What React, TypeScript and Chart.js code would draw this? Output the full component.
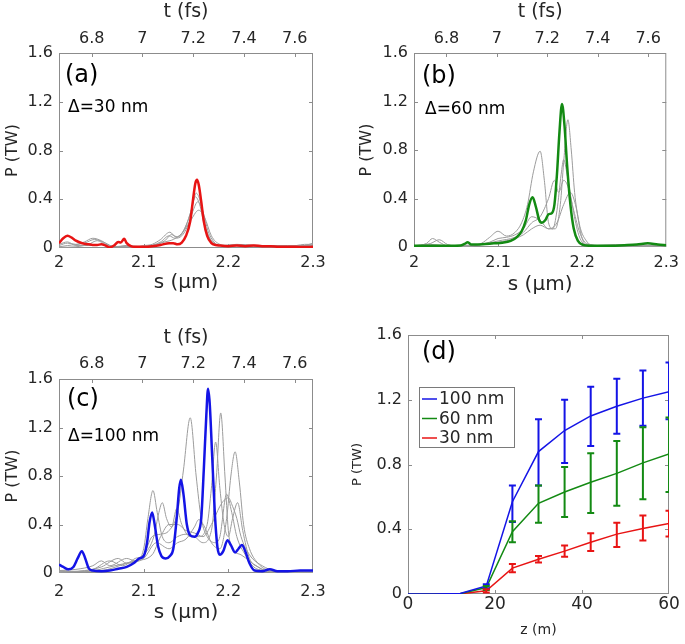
import React, { useEffect, useRef } from "react";
import { Chart, registerables } from "chart.js";

Chart.register(...registerables);

type Pair = [number, number];

const FONT = "'DejaVu Sans', sans-serif";
const TEXT = "#262626";
const AXIS = "#8c8c8c";
const GRAY = "#9c9c9c";
const RED = "#e81414";
const GREEN = "#138a13";
const BLUE = "#1414e6";

const C_LIGHT = 0.299792458; // µm per fs
const S_MIN = 2;
const S_MAX = 2.3;
const sTicks = [2, 2.1, 2.2, 2.3];
const tTicks = [6.8, 7, 7.2, 7.4, 7.6];
const pTicks = [0, 0.4, 0.8, 1.2, 1.6];
const zTicks = [0, 20, 40, 60];

// ---------- Panel (a) : Δ = 30 nm ----------
const aRed: Pair[] = [
  [2.0, 0.04], [2.005, 0.08], [2.01, 0.1], [2.015, 0.085], [2.02, 0.06], [2.025, 0.045],
  [2.03, 0.035], [2.035, 0.03], [2.04, 0.025], [2.045, 0.025], [2.05, 0.03], [2.055, 0.02],
  [2.06, 0.005], [2.065, 0.02], [2.07, 0.05], [2.073, 0.045], [2.077, 0.075], [2.08, 0.04],
  [2.085, 0.015], [2.09, 0.01], [2.1, 0.01], [2.11, 0.015], [2.12, 0.025], [2.13, 0.04],
  [2.135, 0.04], [2.14, 0.03], [2.145, 0.045], [2.15, 0.1], [2.155, 0.22], [2.158, 0.38],
  [2.161, 0.53], [2.163, 0.56], [2.165, 0.52], [2.168, 0.38], [2.171, 0.22], [2.175, 0.1],
  [2.18, 0.04], [2.185, 0.025], [2.19, 0.02], [2.2, 0.015], [2.21, 0.02], [2.22, 0.015],
  [2.23, 0.02], [2.24, 0.015], [2.25, 0.015], [2.26, 0.01], [2.27, 0.01], [2.28, 0.01],
  [2.29, 0.008], [2.3, 0.01],
];
const aGray1: Pair[] = [
  [2.0, 0.02], [2.01, 0.04], [2.02, 0.03], [2.03, 0.05], [2.04, 0.08], [2.05, 0.06],
  [2.06, 0.02], [2.07, 0.01], [2.08, 0.02], [2.09, 0.01], [2.1, 0.02], [2.11, 0.03],
  [2.12, 0.07], [2.131, 0.13], [2.138, 0.09], [2.145, 0.12], [2.152, 0.22], [2.157, 0.33],
  [2.162, 0.45], [2.167, 0.38], [2.172, 0.2], [2.178, 0.08], [2.185, 0.03], [2.2, 0.02],
  [2.22, 0.025], [2.25, 0.015], [2.28, 0.02], [2.29, 0.03], [2.3, 0.03],
];
const aGray2: Pair[] = [
  [2.0, 0.01], [2.01, 0.02], [2.03, 0.04], [2.042, 0.07], [2.055, 0.04], [2.065, 0.01],
  [2.08, 0.02], [2.1, 0.01], [2.12, 0.05], [2.13, 0.1], [2.137, 0.08], [2.145, 0.1],
  [2.152, 0.18], [2.158, 0.3], [2.164, 0.38], [2.17, 0.3], [2.176, 0.14], [2.183, 0.05],
  [2.19, 0.02], [2.21, 0.03], [2.24, 0.02], [2.27, 0.02], [2.3, 0.02],
];
const aGray3: Pair[] = [
  [2.0, 0.03], [2.01, 0.05], [2.02, 0.02], [2.04, 0.02], [2.05, 0.03], [2.06, 0.01],
  [2.08, 0.01], [2.11, 0.02], [2.125, 0.05], [2.135, 0.07], [2.145, 0.12], [2.155, 0.22],
  [2.165, 0.31], [2.172, 0.25], [2.18, 0.1], [2.19, 0.03], [2.2, 0.02], [2.23, 0.02],
  [2.26, 0.01], [2.29, 0.02], [2.3, 0.04],
];
const aGray4: Pair[] = [
  [2.0, 0.005], [2.02, 0.01], [2.035, 0.03], [2.045, 0.06], [2.055, 0.03], [2.07, 0.01],
  [2.09, 0.01], [2.11, 0.02], [2.125, 0.06], [2.133, 0.11], [2.14, 0.09], [2.148, 0.15],
  [2.155, 0.28], [2.161, 0.42], [2.166, 0.36], [2.172, 0.18], [2.18, 0.06], [2.19, 0.02],
  [2.21, 0.02], [2.25, 0.01], [2.3, 0.02],
];

// ---------- Panel (b) : Δ = 60 nm ----------
const bGreen: Pair[] = [
  [2.0, 0.01], [2.02, 0.01], [2.04, 0.01], [2.055, 0.012], [2.06, 0.025], [2.064, 0.04],
  [2.068, 0.02], [2.075, 0.02], [2.085, 0.025], [2.095, 0.03], [2.105, 0.035], [2.115, 0.05],
  [2.122, 0.08], [2.128, 0.13], [2.133, 0.22], [2.137, 0.35], [2.141, 0.41], [2.145, 0.33],
  [2.149, 0.22], [2.152, 0.2], [2.156, 0.22], [2.16, 0.27], [2.164, 0.28], [2.167, 0.35],
  [2.17, 0.6], [2.173, 0.95], [2.176, 1.18], [2.179, 1.0], [2.182, 0.68], [2.186, 0.35],
  [2.19, 0.15], [2.195, 0.05], [2.2, 0.02], [2.21, 0.01], [2.23, 0.01], [2.25, 0.015],
  [2.265, 0.02], [2.278, 0.03], [2.29, 0.02], [2.3, 0.015],
];
const bGray1: Pair[] = [
  [2.0, 0.01], [2.015, 0.03], [2.022, 0.07], [2.03, 0.04], [2.04, 0.01], [2.06, 0.01],
  [2.08, 0.03], [2.09, 0.08], [2.1, 0.13], [2.11, 0.09], [2.12, 0.12], [2.128, 0.2],
  [2.135, 0.35], [2.142, 0.62], [2.15, 0.79], [2.155, 0.55], [2.16, 0.2], [2.165, 0.15],
  [2.17, 0.3], [2.175, 0.6], [2.178, 0.72], [2.182, 0.6], [2.188, 0.35], [2.195, 0.12],
  [2.2, 0.04], [2.21, 0.01], [2.24, 0.02], [2.3, 0.01],
];
const bGray2: Pair[] = [
  [2.0, 0.005], [2.02, 0.03], [2.03, 0.06], [2.04, 0.02], [2.06, 0.005], [2.09, 0.04],
  [2.1, 0.07], [2.11, 0.08], [2.12, 0.1], [2.13, 0.15], [2.14, 0.25], [2.15, 0.22],
  [2.16, 0.15], [2.168, 0.15], [2.174, 0.35], [2.178, 0.7], [2.183, 1.05], [2.187, 0.8],
  [2.191, 0.45], [2.196, 0.2], [2.2, 0.07], [2.205, 0.02], [2.22, 0.01], [2.3, 0.01],
];
const bGray3: Pair[] = [
  [2.0, 0.01], [2.02, 0.02], [2.05, 0.005], [2.08, 0.02], [2.1, 0.05], [2.12, 0.08],
  [2.13, 0.12], [2.14, 0.2], [2.15, 0.25], [2.16, 0.4], [2.167, 0.55], [2.172, 0.45],
  [2.178, 0.55], [2.183, 0.5], [2.19, 0.3], [2.197, 0.12], [2.205, 0.03], [2.22, 0.01],
  [2.3, 0.005],
];
const bGray4: Pair[] = [
  [2.0, 0.005], [2.05, 0.01], [2.1, 0.04], [2.12, 0.07], [2.13, 0.1], [2.14, 0.15],
  [2.15, 0.18], [2.16, 0.15], [2.17, 0.2], [2.178, 0.35], [2.186, 0.45], [2.192, 0.35],
  [2.198, 0.15], [2.205, 0.05], [2.21, 0.02], [2.23, 0.01], [2.3, 0.01],
];

// ---------- Panel (c) : Δ = 100 nm ----------
const cBlue: Pair[] = [
  [2.0, 0.07], [2.005, 0.05], [2.011, 0.03], [2.017, 0.05], [2.022, 0.12], [2.027, 0.18],
  [2.031, 0.12], [2.035, 0.04], [2.04, 0.02], [2.05, 0.015], [2.06, 0.02], [2.07, 0.035],
  [2.08, 0.05], [2.088, 0.08], [2.095, 0.12], [2.1, 0.14], [2.104, 0.25], [2.107, 0.42],
  [2.11, 0.5], [2.113, 0.4], [2.117, 0.22], [2.121, 0.14], [2.126, 0.12], [2.131, 0.14],
  [2.135, 0.2], [2.139, 0.45], [2.142, 0.7], [2.144, 0.77], [2.147, 0.65], [2.151, 0.4],
  [2.155, 0.31], [2.16, 0.3], [2.164, 0.33], [2.168, 0.45], [2.171, 0.85], [2.174, 1.3],
  [2.176, 1.52], [2.178, 1.4], [2.181, 0.95], [2.184, 0.5], [2.187, 0.22], [2.19, 0.15],
  [2.194, 0.18], [2.199, 0.27], [2.203, 0.23], [2.208, 0.17], [2.212, 0.2], [2.216, 0.23],
  [2.22, 0.18], [2.225, 0.08], [2.231, 0.02], [2.24, 0.015], [2.249, 0.03], [2.258, 0.015],
  [2.27, 0.015], [2.285, 0.02], [2.3, 0.02],
];
const cGray1: Pair[] = [
  [2.0, 0.02], [2.02, 0.03], [2.04, 0.06], [2.05, 0.1], [2.06, 0.06], [2.08, 0.12],
  [2.09, 0.1], [2.1, 0.2], [2.105, 0.45], [2.111, 0.68], [2.116, 0.5], [2.122, 0.3],
  [2.13, 0.25], [2.14, 0.3], [2.15, 0.32], [2.16, 0.3], [2.17, 0.25], [2.18, 0.35],
  [2.186, 0.8], [2.191, 1.32], [2.196, 0.8], [2.2, 0.35], [2.205, 0.2], [2.215, 0.15],
  [2.225, 0.1], [2.235, 0.05], [2.25, 0.01], [2.3, 0.005],
];
const cGray2: Pair[] = [
  [2.0, 0.01], [2.03, 0.02], [2.05, 0.05], [2.07, 0.12], [2.08, 0.08], [2.1, 0.15],
  [2.112, 0.3], [2.118, 0.5], [2.122, 0.58], [2.127, 0.45], [2.133, 0.38], [2.139, 0.53],
  [2.145, 0.4], [2.155, 0.3], [2.165, 0.3], [2.175, 0.4], [2.18, 0.7], [2.185, 1.08],
  [2.19, 0.7], [2.195, 0.4], [2.2, 0.3], [2.205, 0.45], [2.211, 0.58], [2.217, 0.35],
  [2.225, 0.12], [2.235, 0.05], [2.25, 0.01], [2.3, 0.005],
];
const cGray3: Pair[] = [
  [2.0, 0.005], [2.04, 0.03], [2.06, 0.1], [2.075, 0.06], [2.09, 0.12], [2.1, 0.15],
  [2.11, 0.3], [2.12, 0.32], [2.13, 0.35], [2.14, 0.5], [2.147, 0.85], [2.155, 1.28],
  [2.162, 0.8], [2.168, 0.45], [2.175, 0.3], [2.185, 0.25], [2.19, 0.3], [2.198, 0.65],
  [2.204, 0.5], [2.21, 0.3], [2.22, 0.15], [2.23, 0.05], [2.245, 0.02], [2.3, 0.005],
];
const cGray4: Pair[] = [
  [2.0, 0.01], [2.05, 0.02], [2.08, 0.08], [2.1, 0.12], [2.115, 0.25], [2.13, 0.2],
  [2.14, 0.25], [2.15, 0.28], [2.16, 0.38], [2.165, 0.44], [2.172, 0.38], [2.18, 0.25],
  [2.19, 0.2], [2.198, 0.45], [2.203, 0.8], [2.208, 1.0], [2.213, 0.75], [2.218, 0.4],
  [2.225, 0.2], [2.235, 0.08], [2.245, 0.03], [2.3, 0.005],
];
const cGray5: Pair[] = [
  [2.0, 0.02], [2.03, 0.01], [2.06, 0.05], [2.09, 0.1], [2.11, 0.15], [2.12, 0.3],
  [2.13, 0.4], [2.14, 0.4], [2.15, 0.35], [2.16, 0.33], [2.17, 0.3], [2.18, 0.4],
  [2.19, 0.55], [2.195, 0.6], [2.2, 0.62], [2.205, 0.55], [2.21, 0.45], [2.215, 0.3],
  [2.225, 0.15], [2.24, 0.06], [2.255, 0.02], [2.3, 0.01],
];

// ---------- Panel (d) : peak power vs z ----------
const dLabels = ["100 nm", "60 nm", "30 nm"];
const dZ = [0, 6, 12, 18, 24, 30, 36, 42, 48, 54, 60];
const dBlue = [0, 0, 0.003, 0.05, 0.57, 0.88, 1.01, 1.1, 1.16, 1.21, 1.25];
const dGreen = [0, 0, 0.002, 0.04, 0.385, 0.56, 0.63, 0.69, 0.745, 0.81, 0.865];
const dRed = [0, 0, 0.001, 0.02, 0.16, 0.215, 0.265, 0.32, 0.37, 0.405, 0.435];
const errZ = [18, 24, 30, 36, 42, 48, 54, 60];
const blueLo = [0.035, 0.445, 0.67, 0.81, 0.915, 0.99, 1.04, 1.08];
const blueHi = [0.06, 0.67, 1.08, 1.2, 1.28, 1.33, 1.38, 1.43];
const greenLo = [0.025, 0.32, 0.44, 0.476, 0.5, 0.545, 0.585, 0.63];
const greenHi = [0.05, 0.45, 0.67, 0.785, 0.87, 0.945, 1.03, 1.09];
const redLo = [0.01, 0.135, 0.195, 0.23, 0.265, 0.29, 0.33, 0.355];
const redHi = [0.03, 0.185, 0.235, 0.3, 0.375, 0.44, 0.485, 0.515];

const toPts = (arr: Pair[]) => arr.map(([x, y]) => ({ x, y }));
const zip = (xs: number[], ys: number[]) => xs.map((x, i) => ({ x, y: ys[i] }));

interface Deco {
  label: string;
  labelDx: number;
  labelDy: number;
  note?: string;
  noteDx?: number;
  noteDy?: number;
  topScale?: string;
  legend?: { dx: number; dy: number; w: number; h: number; row0: number; rowH: number };
  errors?: { color: string; lo: number[]; hi: number[] }[];
}

function makeDeco(d: Deco) {
  return {
    id: "deco",
    beforeDatasetsDraw(chart: any) {
      const { ctx, chartArea: a, scales } = chart;
      ctx.save();
      ctx.strokeStyle = AXIS;
      ctx.lineWidth = 1;
      ctx.strokeRect(a.left + 0.5, a.top + 0.5, a.right - a.left - 1, a.bottom - a.top - 1);
      const tl = 4;
      ctx.beginPath();
      const ys = scales.y;
      ys.ticks.forEach((t: any) => {
        const y = Math.round(ys.getPixelForValue(t.value)) + 0.5;
        if (y <= a.top + 2 || y >= a.bottom - 2) return;
        ctx.moveTo(a.left, y);
        ctx.lineTo(a.left + tl, y);
        ctx.moveTo(a.right, y);
        ctx.lineTo(a.right - tl, y);
      });
      const xs = scales.x;
      xs.ticks.forEach((t: any) => {
        const x = Math.round(xs.getPixelForValue(t.value)) + 0.5;
        if (x <= a.left + 2 || x >= a.right - 2) return;
        ctx.moveTo(x, a.bottom);
        ctx.lineTo(x, a.bottom - tl);
        if (!d.topScale) {
          ctx.moveTo(x, a.top);
          ctx.lineTo(x, a.top + tl);
        }
      });
      if (d.topScale) {
        const ts = scales[d.topScale];
        ts.ticks.forEach((t: any) => {
          const x = Math.round(ts.getPixelForValue(t.value)) + 0.5;
          if (x <= a.left + 2 || x >= a.right - 2) return;
          ctx.moveTo(x, a.top);
          ctx.lineTo(x, a.top + tl);
        });
      }
      ctx.stroke();
      ctx.restore();
    },
    afterDatasetsDraw(chart: any) {
      if (!d.errors) return;
      const { ctx, chartArea: a, scales } = chart;
      const xs = scales.x;
      const ys = scales.y;
      ctx.save();
      ctx.beginPath();
      ctx.rect(a.left, a.top, a.right - a.left, a.bottom - a.top);
      ctx.clip();
      const cap = 3.5;
      d.errors.forEach((e) => {
        ctx.strokeStyle = e.color;
        ctx.lineWidth = 2;
        ctx.beginPath();
        errZ.forEach((z, i) => {
          const x = xs.getPixelForValue(z);
          const y1 = ys.getPixelForValue(e.lo[i]);
          const y2 = ys.getPixelForValue(e.hi[i]);
          ctx.moveTo(x, y1);
          ctx.lineTo(x, y2);
          ctx.moveTo(x - cap, y1);
          ctx.lineTo(x + cap, y1);
          ctx.moveTo(x - cap, y2);
          ctx.lineTo(x + cap, y2);
        });
        ctx.stroke();
      });
      ctx.restore();
    },
    afterDraw(chart: any) {
      const { ctx, chartArea: a } = chart;
      ctx.save();
      ctx.fillStyle = "#000";
      ctx.textBaseline = "middle";
      ctx.textAlign = "left";
      ctx.font = `24px ${FONT}`;
      ctx.fillText(d.label, a.left + d.labelDx, a.top + d.labelDy);
      if (d.note) {
        ctx.font = `17px ${FONT}`;
        ctx.fillText(d.note, a.left + (d.noteDx || 0), a.top + (d.noteDy || 0));
      }
      if (d.legend) {
        const L = d.legend;
        const x0 = Math.round(a.left + L.dx);
        const y0 = Math.round(a.top + L.dy);
        ctx.fillStyle = "#fff";
        ctx.fillRect(x0, y0, L.w, L.h);
        ctx.strokeStyle = "#7a7a7a";
        ctx.lineWidth = 1;
        ctx.strokeRect(x0 + 0.5, y0 + 0.5, L.w - 1, L.h - 1);
        ctx.font = `17px ${FONT}`;
        chart.data.datasets.forEach((ds: any, i: number) => {
          const y = y0 + L.row0 + i * L.rowH;
          ctx.strokeStyle = ds.borderColor;
          ctx.lineWidth = 1.5;
          ctx.beginPath();
          ctx.moveTo(x0 + 3, y);
          ctx.lineTo(x0 + 18, y);
          ctx.stroke();
          ctx.fillStyle = TEXT;
          ctx.fillText(ds.label, x0 + 20, y + 1);
        });
      }
      ctx.restore();
    },
  };
}

interface SpecLayout {
  w: number;
  h: number;
  left: number;
  right: number;
  top: number;
  bottom: number;
  yTitlePad: number;
  xTickPad: number;
  xTitlePad: number;
  tTitlePad: number;
  tTickPad: number;
}

const lineCommon = {
  pointRadius: 0,
  fill: false,
  cubicInterpolationMode: "monotone",
  xAxisID: "x",
  yAxisID: "y",
};

function yAxis(width: number, titlePad: number, titleSize: number) {
  return {
    type: "linear",
    axis: "y",
    position: "left",
    min: 0,
    max: 1.6,
    bounds: "data",
    afterBuildTicks: (s: any) => {
      s.ticks = pTicks.map((value) => ({ value }));
    },
    afterFit: (s: any) => {
      s.width = width;
    },
    grid: { display: false, drawTicks: false },
    border: { display: false },
    ticks: {
      padding: 6,
      color: TEXT,
      font: { family: FONT, size: 16 },
      autoSkip: false,
      callback: (v: any) => String(v),
    },
    title: {
      display: true,
      text: "P (TW)",
      color: TEXT,
      font: { family: FONT, size: titleSize },
      padding: { top: titlePad, bottom: 0 },
    },
  };
}

function spectrumConfig(main: Pair[], color: string, grays: Pair[][], L: SpecLayout, deco: Deco) {
  const datasets = [
    { data: toPts(main), borderColor: color, borderWidth: 2.5, ...lineCommon },
    ...grays.map((g) => ({ data: toPts(g), borderColor: GRAY, borderWidth: 1, ...lineCommon })),
  ];
  return {
    type: "line",
    data: { datasets },
    options: {
      responsive: false,
      animation: false,
      events: [],
      layout: { padding: { left: 0, top: 0, right: L.w - L.right, bottom: 0 } },
      plugins: { legend: { display: false }, tooltip: { enabled: false } },
      scales: {
        x: {
          type: "linear",
          axis: "x",
          position: "bottom",
          min: S_MIN,
          max: S_MAX,
          bounds: "data",
          afterBuildTicks: (s: any) => {
            s.ticks = sTicks.map((value) => ({ value }));
          },
          afterFit: (s: any) => {
            s.height = L.h - L.bottom;
          },
          grid: { display: false, drawTicks: false },
          border: { display: false },
          ticks: {
            padding: L.xTickPad,
            color: TEXT,
            font: { family: FONT, size: 16 },
            maxRotation: 0,
            autoSkip: false,
            callback: (v: any) => String(v),
          },
          title: {
            display: true,
            text: "s (μm)",
            color: TEXT,
            font: { family: FONT, size: 20 },
            padding: { top: 0, bottom: L.xTitlePad },
          },
        },
        t: {
          type: "linear",
          axis: "x",
          position: "top",
          min: S_MIN / C_LIGHT,
          max: S_MAX / C_LIGHT,
          bounds: "data",
          afterBuildTicks: (s: any) => {
            s.ticks = tTicks.map((value) => ({ value }));
          },
          afterFit: (s: any) => {
            s.height = L.top;
          },
          grid: { display: false, drawTicks: false },
          border: { display: false },
          ticks: {
            padding: L.tTickPad,
            color: TEXT,
            font: { family: FONT, size: 16 },
            maxRotation: 0,
            autoSkip: false,
            callback: (v: any) => String(v),
          },
          title: {
            display: true,
            text: "t (fs)",
            color: TEXT,
            font: { family: FONT, size: 19 },
            padding: { top: L.tTitlePad, bottom: 0 },
          },
        },
        y: yAxis(L.left, L.yTitlePad, 16),
      },
    },
    plugins: [makeDeco({ ...deco, topScale: "t" })],
  };
}

function configA() {
  return spectrumConfig(
    aRed,
    RED,
    [aGray1, aGray2, aGray3, aGray4],
    { w: 340, h: 300, left: 59, right: 313, top: 53, bottom: 248, yTitlePad: 3, xTickPad: 5, xTitlePad: 5, tTitlePad: 1, tTickPad: 5 },
    { label: "(a)", labelDx: 6, labelDy: 23, note: "Δ=30 nm", noteDx: 9, noteDy: 55 }
  );
}

function configB() {
  return spectrumConfig(
    bGreen,
    GREEN,
    [bGray1, bGray2, bGray3, bGray4],
    { w: 345, h: 300, left: 74, right: 330, top: 53, bottom: 247, yTitlePad: 17, xTickPad: 6, xTitlePad: 3, tTitlePad: 1, tTickPad: 5 },
    { label: "(b)", labelDx: 8, labelDy: 24, note: "Δ=60 nm", noteDx: 11, noteDy: 57 }
  );
}

function configC() {
  return spectrumConfig(
    cBlue,
    BLUE,
    [cGray1, cGray2, cGray3, cGray4, cGray5],
    { w: 340, h: 330, left: 59, right: 313, top: 79, bottom: 273, yTitlePad: 3, xTickPad: 9, xTitlePad: 5, tTitlePad: 27, tTickPad: 6 },
    { label: "(c)", labelDx: 8, labelDy: 21, note: "Δ=100 nm", noteDx: 9, noteDy: 58 }
  );
}

function configD() {
  const common = { pointRadius: 0, fill: false, borderWidth: 1.5, tension: 0, xAxisID: "x", yAxisID: "y" };
  return {
    type: "line",
    data: {
      datasets: [
        { label: dLabels[0], data: zip(dZ, dBlue), borderColor: BLUE, ...common },
        { label: dLabels[1], data: zip(dZ, dGreen), borderColor: GREEN, ...common },
        { label: dLabels[2], data: zip(dZ, dRed), borderColor: RED, ...common },
      ],
    },
    options: {
      responsive: false,
      animation: false,
      events: [],
      layout: { padding: { left: 0, top: 35, right: 16, bottom: 0 } },
      plugins: { legend: { display: false }, tooltip: { enabled: false } },
      scales: {
        x: {
          type: "linear",
          axis: "x",
          position: "bottom",
          min: 0,
          max: 60,
          bounds: "data",
          afterBuildTicks: (s: any) => {
            s.ticks = zTicks.map((value) => ({ value }));
          },
          afterFit: (s: any) => {
            s.height = 50;
          },
          grid: { display: false, drawTicks: false },
          border: { display: false },
          ticks: {
            padding: 0,
            color: TEXT,
            font: { family: FONT, size: 17 },
            maxRotation: 0,
            autoSkip: false,
            callback: (v: any) => String(v),
          },
          title: {
            display: true,
            text: "z (m)",
            color: TEXT,
            font: { family: FONT, size: 14 },
            padding: { top: 0, bottom: 5 },
          },
        },
        y: yAxis(68, 10, 13),
      },
    },
    plugins: [
      makeDeco({
        label: "(d)",
        labelDx: 14,
        labelDy: 18,
        legend: { dx: 11, dy: 52, w: 96, h: 61, row0: 12, rowH: 19.5 },
        errors: [
          { color: BLUE, lo: blueLo, hi: blueHi },
          { color: GREEN, lo: greenLo, hi: greenHi },
          { color: RED, lo: redLo, hi: redHi },
        ],
      }),
    ],
  };
}

function Panel({ x, y, w, h, make }: { x: number; y: number; w: number; h: number; make: () => any }) {
  const ref = useRef<HTMLCanvasElement>(null);
  useEffect(() => {
    const chart = new Chart(ref.current as HTMLCanvasElement, make());
    return () => chart.destroy();
  }, []);
  return (
    <canvas
      ref={ref}
      width={w}
      height={h}
      style={{ position: "absolute", left: x, top: y, width: w, height: h }}
    />
  );
}

export default function App() {
  return (
    <div style={{ position: "absolute", left: 0, top: 0, width: 685, height: 644, background: "#fff", overflow: "hidden" }}>
      <Panel x={0} y={0} w={340} h={300} make={configA} />
      <Panel x={340} y={0} w={345} h={300} make={configB} />
      <Panel x={0} y={300} w={340} h={330} make={configC} />
      <Panel x={340} y={300} w={345} h={344} make={configD} />
    </div>
  );
}
